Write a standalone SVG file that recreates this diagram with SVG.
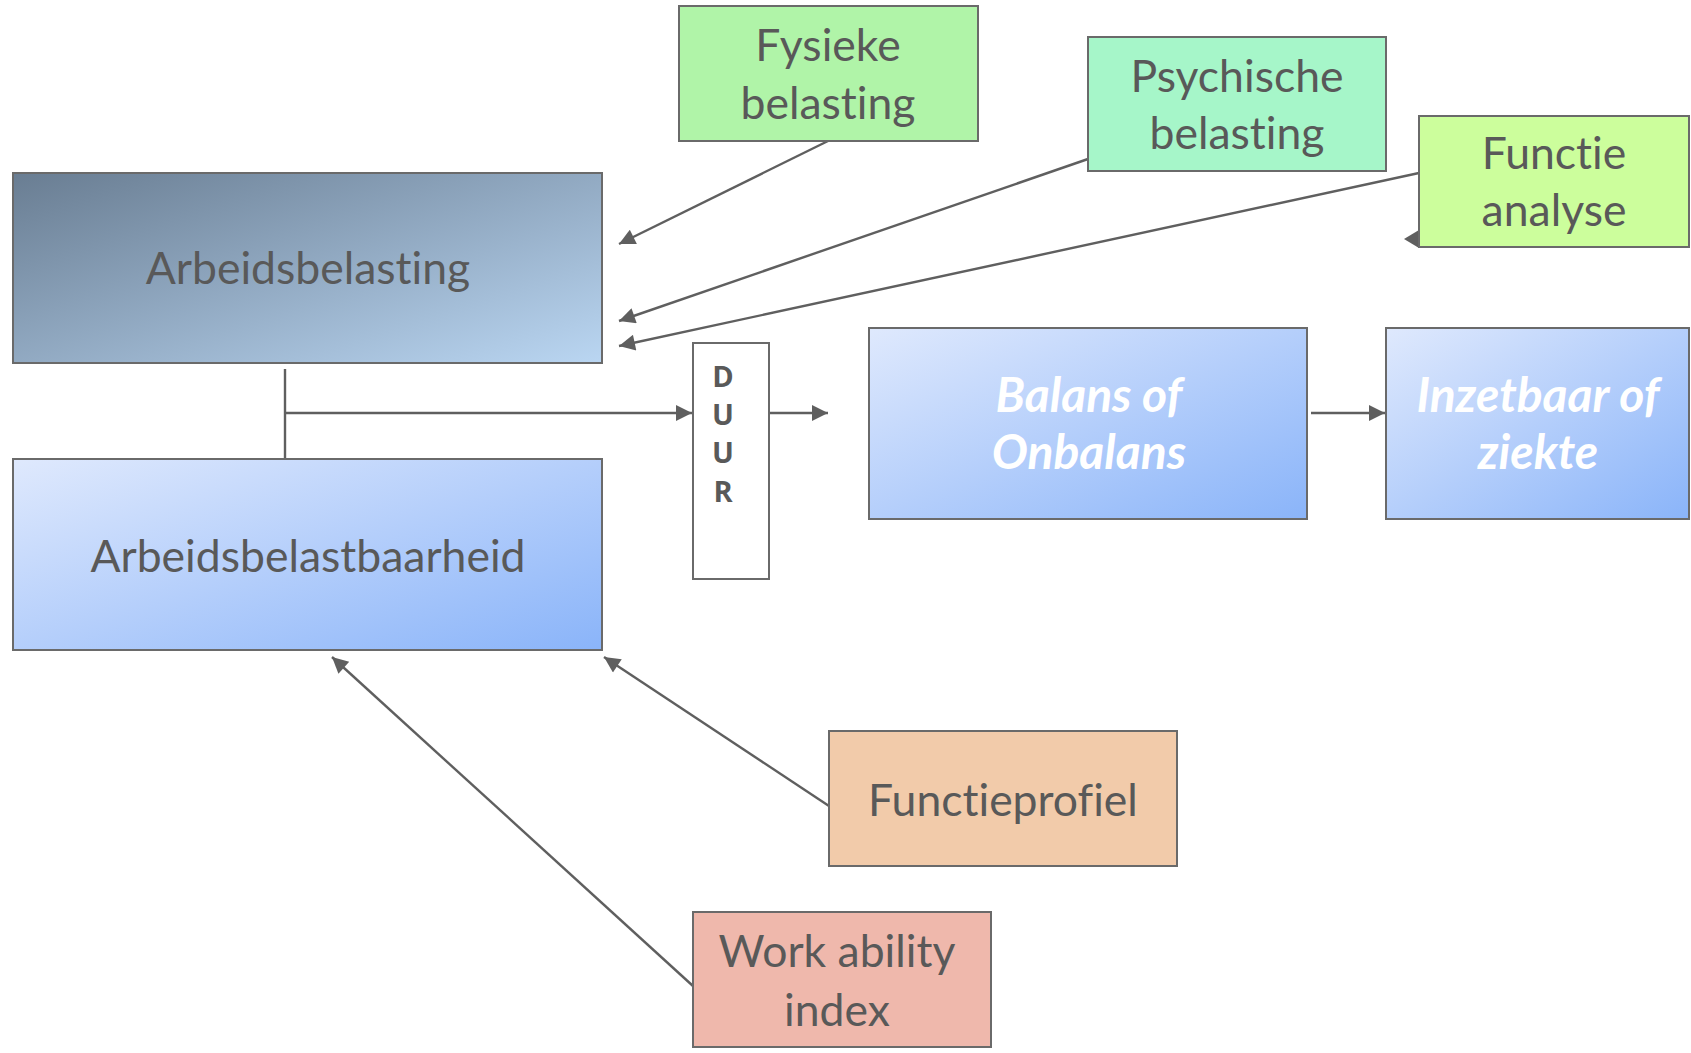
<svg xmlns="http://www.w3.org/2000/svg" width="1691" height="1053" viewBox="0 0 1691 1053">
<defs>
<linearGradient id="gDark" x1="0" y1="0" x2="1" y2="1">
<stop offset="0" stop-color="#697d92"/>
<stop offset="1" stop-color="#bad6f2"/>
</linearGradient>
<linearGradient id="gBlue" x1="0" y1="0" x2="1" y2="1">
<stop offset="0" stop-color="#dfe9fd"/>
<stop offset="1" stop-color="#8ab4f9"/>
</linearGradient>
<marker id="arr" viewBox="0 0 10 10" refX="10" refY="5" markerUnits="userSpaceOnUse" markerWidth="19" markerHeight="16" orient="auto">
<path d="M0,0 L10,5 L0,10 z" fill="#5f5f5f"/>
</marker>
<style>
.box{stroke:#6a6a6a;stroke-width:2}
.t{font-family:Lato,"Open Sans","Liberation Sans",sans-serif;font-size:44.5px;fill:#595959;text-anchor:middle;font-variant-ligatures:none}
.w{font-family:Lato,"Open Sans","Liberation Sans",sans-serif;font-size:48px;fill:#ffffff;font-weight:bold;font-style:italic;text-anchor:middle;font-variant-ligatures:none}
.d{font-family:"Open Sans","Liberation Sans",sans-serif;font-size:29px;fill:#595959;font-weight:bold;text-anchor:middle}
.c{stroke:#5f5f5f;stroke-width:2.4;fill:none}
</style>
</defs>
<rect width="1691" height="1053" fill="#ffffff"/>
<g id="connectors">
<line class="c" x1="828" y1="141" x2="619" y2="244" marker-end="url(#arr)"/>
<line class="c" x1="1088" y1="159" x2="619" y2="321" marker-end="url(#arr)"/>
<line class="c" x1="1419" y1="173" x2="619" y2="346" marker-end="url(#arr)"/>
<polyline class="c" points="285,369 285,459"/>
<line class="c" x1="285" y1="413" x2="692" y2="413" marker-end="url(#arr)"/>
<line class="c" x1="769" y1="413" x2="828" y2="413" marker-end="url(#arr)"/>
<line class="c" x1="1311" y1="413" x2="1385" y2="413" marker-end="url(#arr)"/>
<line class="c" x1="829" y1="806" x2="604" y2="657" marker-end="url(#arr)"/>
<line class="c" x1="693" y1="986" x2="332" y2="657" marker-end="url(#arr)"/>
<polygon points="1404,239 1419,230 1419,248" fill="#5f5f5f"/>
</g>
<g id="arbeidsbelasting">
<rect class="box" x="13" y="173" width="589" height="190" fill="url(#gDark)"/>
<text class="t" x="308" y="284">Arbeidsbelasting</text>
</g>
<g id="arbeidsbelastbaarheid">
<rect class="box" x="13" y="459" width="589" height="191" fill="url(#gBlue)"/>
<text class="t" x="308" y="572">Arbeidsbelastbaarheid</text>
</g>
<g id="duur">
<rect class="box" x="693" y="343" width="76" height="236" fill="#ffffff"/>
<text class="d" x="723" y="387">D</text>
<text class="d" x="723" y="425">U</text>
<text class="d" x="723" y="463">U</text>
<text class="d" x="723" y="502">R</text>
</g>
<g id="balans">
<rect class="box" x="869" y="328" width="438" height="191" fill="url(#gBlue)"/>
<text class="w" x="1089" y="412">Balans of</text>
<text class="w" x="1089" y="469">Onbalans</text>
</g>
<g id="inzetbaar">
<rect class="box" x="1386" y="328" width="303" height="191" fill="url(#gBlue)"/>
<text class="w" x="1538" y="412">Inzetbaar of</text>
<text class="w" x="1538" y="469">ziekte</text>
</g>
<g id="fysieke">
<rect class="box" x="679" y="6" width="299" height="135" fill="#b0f4a8"/>
<text class="t" x="828" y="61">Fysieke</text>
<text class="t" x="828" y="119">belasting</text>
</g>
<g id="psychische">
<rect class="box" x="1088" y="37" width="298" height="134" fill="#a6f6c9"/>
<text class="t" x="1237" y="92">Psychische</text>
<text class="t" x="1237" y="149">belasting</text>
</g>
<g id="functieanalyse">
<rect class="box" x="1419" y="116" width="270" height="131" fill="#ccfe9c"/>
<text class="t" x="1554" y="169">Functie</text>
<text class="t" x="1554" y="226">analyse</text>
</g>
<g id="functieprofiel">
<rect class="box" x="829" y="731" width="348" height="135" fill="#f2cbaa"/>
<text class="t" x="1003" y="816">Functieprofiel</text>
</g>
<g id="workability">
<rect class="box" x="693" y="912" width="298" height="135" fill="#efb8ac"/>
<text class="t" x="837" y="967">Work ability</text>
<text class="t" x="837" y="1026">index</text>
</g>
</svg>
